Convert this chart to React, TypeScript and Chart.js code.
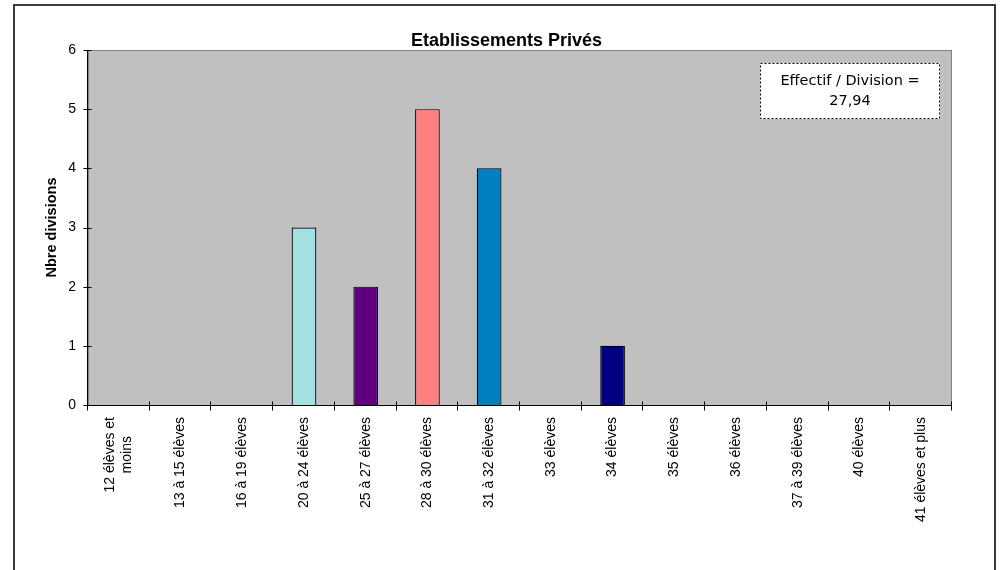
import React, { useEffect, useRef } from "react";
import { Chart, registerables } from "chart.js";

Chart.register(...registerables);

const TITLE = "Etablissements Privés";
const Y_TITLE = "Nbre divisions";
const categories: (string | string[])[] = [
  ["12 élèves et", "moins"],
  "13 à 15 élèves",
  "16 à 19 élèves",
  "20 à 24 élèves",
  "25 à 27 élèves",
  "28 à 30 élèves",
  "31 à 32 élèves",
  "33 élèves",
  "34 élèves",
  "35 élèves",
  "36 élèves",
  "37 à 39 élèves",
  "40 élèves",
  "41 élèves et plus",
];
const divisions = [0, 0, 0, 3, 2, 5, 4, 0, 1, 0, 0, 0, 0, 0];
const barColors = [
  "#A4E0E2", "#A4E0E2", "#A4E0E2", "#A4E0E2", "#600080", "#FF8080", "#0080C0",
  "#A4E0E2", "#000080", "#A4E0E2", "#A4E0E2", "#A4E0E2", "#A4E0E2", "#A4E0E2",
];
const yTicks = [0, 1, 2, 3, 4, 5, 6];
const annotationLines = ["Effectif / Division =", "27,94"];

const ARIAL = '"Liberation Sans", Arial, sans-serif';
const VERDANA = '"DejaVu Sans", Verdana, sans-serif';

const decorPlugin = {
  id: "decor",
  beforeDatasetsDraw(chart: any) {
    const { ctx, chartArea: a } = chart;
    ctx.save();
    ctx.fillStyle = "#C0C0C0";
    ctx.fillRect(a.left, a.top, a.right - a.left, a.bottom - a.top);
    ctx.strokeStyle = "#808080";
    ctx.lineWidth = 1;
    ctx.strokeRect(a.left + 0.5, a.top + 0.5, a.right - a.left - 1, a.bottom - a.top);
    ctx.restore();
  },
  afterDatasetsDraw(chart: any) {
    const { ctx, chartArea: a } = chart;
    const xs = chart.scales.x;
    const ys = chart.scales.y;
    ctx.save();
    // axes
    ctx.strokeStyle = "#000";
    ctx.lineWidth = 1;
    ctx.beginPath();
    const lx = Math.round(a.left) - 0.5;
    const by = Math.round(a.bottom) + 0.5;
    ctx.moveTo(lx, a.top);
    ctx.lineTo(lx, by);
    ctx.lineTo(a.right, by);
    // y ticks
    yTicks.forEach((v) => {
      const y = Math.round(ys.getPixelForValue(v)) + 0.5;
      ctx.moveTo(lx - 4, y);
      ctx.lineTo(lx + 4, y);
    });
    // x ticks at category boundaries
    const n = categories.length;
    const w = (xs.right - xs.left) / n;
    for (let i = 0; i <= n; i++) {
      const x = Math.round(xs.left + i * w) - 0.5;
      ctx.moveTo(x, by - 4);
      ctx.lineTo(x, by + 5);
    }
    ctx.stroke();

    // x labels
    ctx.fillStyle = "#000";
    ctx.font = `14px ${ARIAL}`;
    ctx.textBaseline = "middle";
    ctx.textAlign = "center";
    const lh = 17;
    categories.forEach((lab, i) => {
      const lines = Array.isArray(lab) ? lab : [lab];
      const maxW = Math.max(...lines.map((l) => ctx.measureText(l).width));
      const x = xs.getPixelForValue(i);
      ctx.save();
      ctx.translate(x, by + 11.5);
      ctx.rotate(-Math.PI / 2);
      lines.forEach((l, j) => {
        ctx.fillText(l, -maxW / 2, (j - (lines.length - 1) / 2) * lh);
      });
      ctx.restore();
    });

    // y title
    ctx.save();
    ctx.font = `bold 14.5px ${ARIAL}`;
    ctx.translate(52, (a.top + a.bottom) / 2);
    ctx.rotate(-Math.PI / 2);
    ctx.fillText(Y_TITLE, 0, 0);
    ctx.restore();

    // title
    ctx.font = `bold 18px ${ARIAL}`;
    ctx.textBaseline = "alphabetic";
    ctx.fillText(TITLE, 506.5, 46);

    // annotation box
    ctx.fillStyle = "#fff";
    ctx.fillRect(760, 63, 180, 56);
    ctx.setLineDash([2, 2]);
    ctx.strokeStyle = "#000";
    ctx.strokeRect(760.5, 63.5, 179, 55);
    ctx.setLineDash([]);
    ctx.fillStyle = "#000";
    ctx.font = `14.5px ${VERDANA}`;
    ctx.textBaseline = "middle";
    ctx.fillText(annotationLines[0], 850, 81.5);
    ctx.fillText(annotationLines[1], 850, 101);
    ctx.restore();
  },
};

export default function App() {
  const ref = useRef<HTMLCanvasElement | null>(null);
  useEffect(() => {
    if (!ref.current) return;
    const chart = new Chart(ref.current, {
      type: "bar",
      data: {
        labels: categories,
        datasets: [
          {
            data: divisions,
            backgroundColor: barColors,
            borderColor: "#000",
            borderWidth: 1.2,
            barPercentage: 0.4,
            categoryPercentage: 1,
          },
        ],
      },
      options: {
        animation: false,
        responsive: false,
        devicePixelRatio: 1,
        layout: { padding: { left: 15, right: 50, top: 50, bottom: 0 } },
        plugins: { legend: { display: false }, title: { display: false }, tooltip: { enabled: false } },
        scales: {
          x: {
            grid: { display: false, drawTicks: false },
            border: { display: false },
            ticks: { display: false },
            afterFit: (s: any) => {
              s.height = 165;
            },
          },
          y: {
            min: 0,
            max: 6,
            grid: { display: false, drawTicks: false },
            border: { display: false },
            ticks: {
              stepSize: 1,
              color: "#000",
              padding: 12,
              font: { size: 14, family: ARIAL },
            },
            afterFit: (s: any) => {
              s.width = 73;
            },
          },
        },
      },
      plugins: [decorPlugin],
    });
    return () => chart.destroy();
  }, []);
  return (
    <div style={{ position: "fixed", left: 0, top: 0, width: 1002, height: 570, overflow: "hidden", background: "#fff" }}>
      <canvas ref={ref} width={1002} height={570} style={{ position: "absolute", left: 0, top: 0, width: 1002, height: 570 }} />
      <div
        style={{
          position: "absolute",
          left: 13,
          top: 4,
          width: 979,
          height: 600,
          border: "2px solid #3a3a3a",
          pointerEvents: "none",
        }}
      />
    </div>
  );
}
